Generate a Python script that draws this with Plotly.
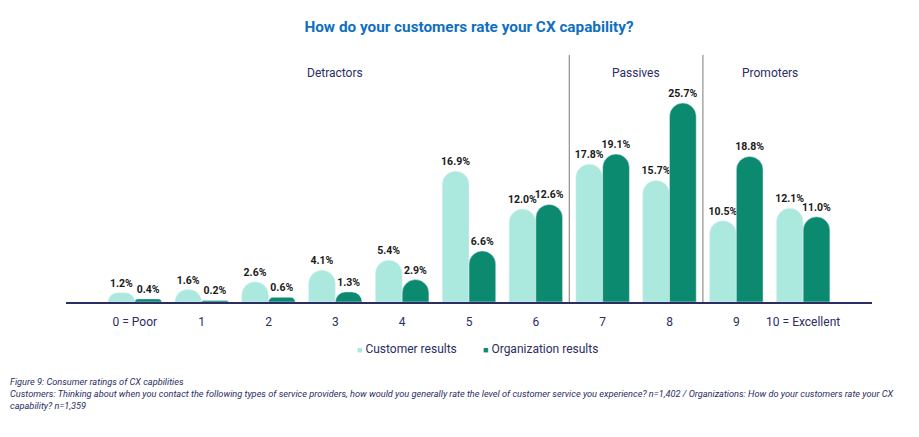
import plotly.graph_objects as go

categories = ["0 = Poor", "1", "2", "3", "4", "5", "6", "7", "8", "9", "10 = Excellent"]
customer = [1.2, 1.6, 2.6, 4.1, 5.4, 16.9, 12.0, 17.8, 15.7, 10.5, 12.1]
organization = [0.4, 0.2, 0.6, 1.3, 2.9, 6.6, 12.6, 19.1, 25.7, 18.8, 11.0]
series_names = ["Customer results", "Organization results"]
series_colors = ["#abe9df", "#0b8a6f"]
sections = [("Detractors", 3.0), ("Passives", 7.5), ("Promoters", 9.5)]
dividers = [6.5, 8.5]

title_text = "How do your customers rate your CX capability?"
foot_lines = [
    "Figure 9: Consumer ratings of CX capbilities",
    "Customers: Thinking about when you contact the following types of service providers, how would you generally rate the level of customer service you experience? n=1,402 / Organizations: How do your customers rate your CX",
    "capability? n=1,359",
]

navy = "#2b2d63"
fig = go.Figure()
for name, vals, col in zip(series_names, [customer, organization], series_colors):
    fig.add_trace(go.Bar(
        x=categories, y=vals, name=name, marker_color=col, showlegend=False,
        text=[f"{v:.1f}%" for v in vals], textposition="outside",
        constraintext="none", cliponaxis=False,
        textfont=dict(family="Roboto", size=10.5, color="#1a1a1a", weight="bold"),
    ))

for d in dividers:
    fig.add_shape(type="line", xref="x", yref="paper", x0=d, x1=d, y0=0, y1=1,
                  line=dict(color="#7a7a7a", width=1))

for label, xpos in sections:
    fig.add_annotation(text=label, x=xpos, xref="x", y=0.965, yref="paper",
                       showarrow=False, font=dict(family="Roboto", size=12, color=navy))

# manual legend
legend_x = [(355 - 66) / 806, (481 - 66) / 806]
for name, col, lx in zip(series_names, series_colors, legend_x):
    fig.add_annotation(
        text=f"<span style='color:{col};font-size:9px'>■</span> {name}",
        xref="paper", yref="paper", x=lx, y=-0.19, xanchor="left", yanchor="middle",
        showarrow=False, font=dict(family="Roboto", size=12, color=navy))

fig.add_annotation(text="<br>".join(foot_lines), xref="paper", yref="paper",
                   x=-0.072, y=-0.29, xanchor="left", yanchor="top", align="left",
                   showarrow=False,
                   font=dict(family="Roboto", size=9.2, color=navy, style="italic"))

fig.update_layout(
    width=919, height=437,
    margin=dict(l=66, r=47, t=55, b=135),
    paper_bgcolor="white", plot_bgcolor="white",
    barmode="group", bargap=0.2, bargroupgap=0, barcornerradius="50%",
    showlegend=False,
    title=dict(text=f"<b>{title_text}</b>", x=0.5, xref="paper", y=0.94, yref="container",
               xanchor="center", yanchor="middle",
               font=dict(family="Roboto", size=15.3, color="#0f6fc0")),
    xaxis=dict(type="category", range=[-1.03, 11.03], showline=True, linecolor=navy, linewidth=1.5,
               ticks="", showgrid=False, ticklabelstandoff=8,
               tickfont=dict(family="Roboto", size=12, color=navy)),
    yaxis=dict(range=[0, 31.9], visible=False, showgrid=False),
)

fig.write_html("out.html")
